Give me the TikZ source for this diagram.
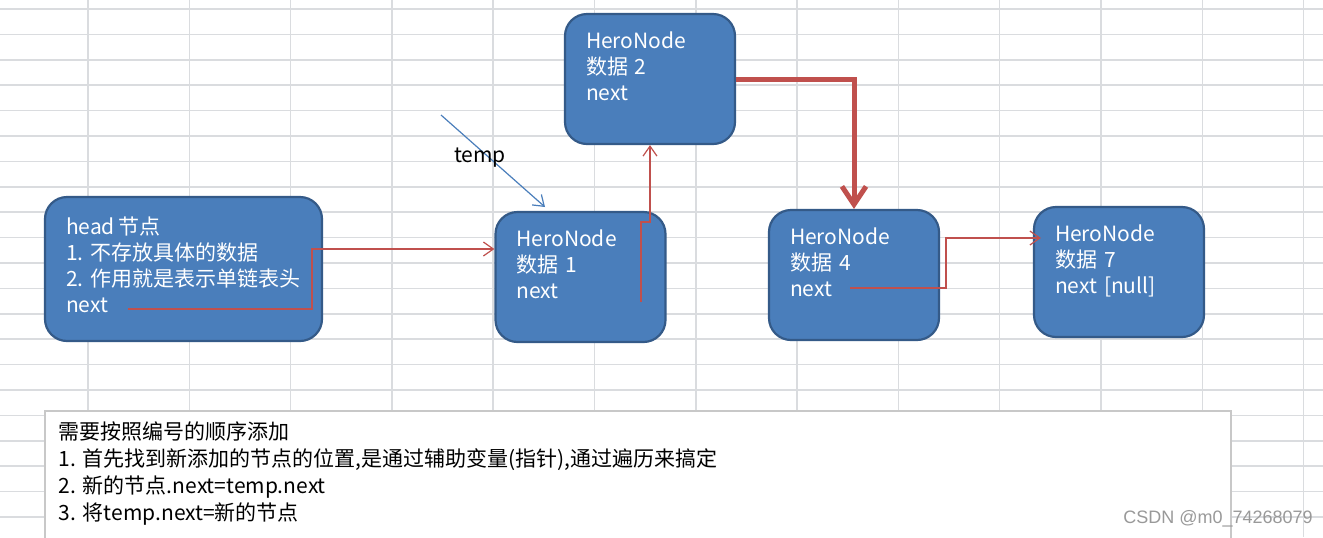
\documentclass[tikz,border=0pt]{standalone}
\usepackage{fontspec}
\setmainfont{Noto Sans CJK SC}
\newfontfamily\wmfont{Liberation Sans}
\usetikzlibrary{arrows.meta}
\definecolor{NodeBlue}{RGB}{74,126,187}
\definecolor{NodeEdge}{RGB}{52,90,136}
\definecolor{LinkRed}{RGB}{192,80,77}
\definecolor{GridGray}{RGB}{218,220,223}
\definecolor{NoteGray}{RGB}{200,200,200}

\begin{document}
\begin{tikzpicture}[x=0.5pt,y=-0.5pt,
    gridln/.style={GridGray,line width=0.75pt},
    nd/.style={draw=NodeEdge,line width=1.1pt,fill=NodeBlue,rounded corners=11pt,
               text=white,font=\fontsize{10.5}{13}\selectfont,align=left,
               inner xsep=10.5pt,text width=64pt,minimum height=65pt},
    link/.style={LinkRed,line width=0.6pt,-{Straight Barb[length=5pt,width=7pt]}},
    fatlink/.style={LinkRed,line width=2.5pt,-{Straight Barb[length=9pt,width=12pt]}},
    ptr/.style={NodeBlue,line width=0.6pt,-{Straight Barb[length=5pt,width=7pt]}}
  ]
  \useasboundingbox (0,0) rectangle (1323,537);
  \fill[white] (0,0) rectangle (1323,537);
  % Sheet grid
  \foreach \k in {0,...,20} \draw[gridln] (0,{9+25.4*\k}) -- (1323,{9+25.4*\k});
  \foreach \k in {0,...,12} \draw[gridln] ({88+101.3*\k},0) -- ({88+101.3*\k},537);
  % Nodes
  \node[nd,text width=117.5pt,minimum height=72pt] (head) at (183.5,269)
    {head\,节点\\1.~不存放具体的数据\\2.~作用就是表示单链表头\\next\\[-9pt]\mbox{}};
  \node[nd] (n1) at (580.5,277) {HeroNode\\数据 1\\next\\\mbox{}};
  \node[nd] (n2) at (650,79) {HeroNode\\数据 2\\next\\\mbox{}};
  \node[nd] (n4) at (854,275) {HeroNode\\数据 4\\next\\\mbox{}};
  \node[nd] (n7) at (1119,272) {HeroNode\\数据 7\\next [null]\\\mbox{}};
  % Links
  \coordinate (hnext) at (128,309);
  \coordinate (hbend) at (312,249);
  \draw[link] (hnext) -| (hbend) -- (hbend -| n1.west);
  \coordinate (n1next) at (641,302);
  \coordinate (n1bend) at (641,222);
  \draw[link] (n1next) -- (n1bend) -| (n2.south);
  \draw[fatlink] (n2.east) -| (n4.north);
  \coordinate (n4next) at (850,288);
  \coordinate (n4bend) at (946,238);
  \draw[link,shorten >=-4pt] (n4next) -| (n4bend) -- (n4bend -| n7.west);
  % temp pointer
  \coordinate (tstart) at (441,115);
  \coordinate (tend) at (545,207);
  \draw[ptr] (tstart) -- (tend);
  \node[font=\fontsize{10.5}{13}\selectfont] (tmp) at (480,158) {temp};
  % Note
  \draw[NoteGray,line width=0.75pt,fill=white] (45,411) rectangle (1231,560);
  \node[anchor=north west,inner sep=0pt,align=left,text width=580pt,
        font=\fontsize{10.5}{13.5}\selectfont] (note) at (58,421)
    {需要按照编号的顺序添加\\1.~首先找到新添加的节点的位置,是通过辅助变量(指针),通过遍历来搞定\\2.~新的节点.next=temp.next\\3.~将temp.next=新的节点};
  \node[font=\wmfont\fontsize{9}{11}\selectfont,text=black!40] (wm) at (1218,519) {CSDN @m0\_74268079};
\end{tikzpicture}
\end{document}
